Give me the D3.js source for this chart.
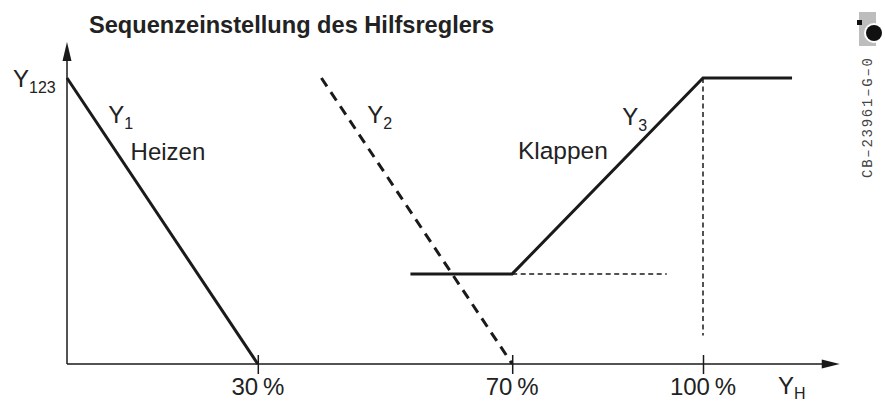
<!DOCTYPE html>
<html>
<head>
<meta charset="utf-8">
<script src="https://cdn.jsdelivr.net/npm/d3@7"></script>
<style>
  body { margin: 0; background: #fff; }
  svg { display: block; font-family: "Liberation Sans", Arial, sans-serif; }
</style>
</head>
<body>
<div id="chart"></div>
<script>
// Werte in % (x = Y_H, y = Stellsignal)
var xTicks = [30, 70, 100];
var tickLabels = ["30\u2009%", "70\u2009%", "100\u2009%"];
var y1Points = [[0, 100], [30, 0]];
var y2Points = [[40, 100], [70, 0]];
var y3Points = [[54, 31.5], [70, 31.5], [100, 100], [114, 100]];
var guideH = [[70, 31.5], [94.3, 31.5]];
var guideV = [[100, 100], [100, 10]];
var seriesNames = ["Y1", "Y2", "Y3"];
var title = "Sequenzeinstellung des Hilfsreglers";
var docCode = "CB\u201323961\u2013G\u20130";

var width = 885, height = 401;
var ink = "#1a1a1a";

var x = d3.scaleLinear().domain([0, 100]).range([67, 703]);
var y = d3.scaleLinear().domain([0, 100]).range([364, 78]);
var xEnd = 121.5, yEnd = 112.6;

var svg = d3.select("#chart").append("svg")
    .attr("width", width)
    .attr("height", height);

var line = d3.line()
    .x(function(d) { return x(d[0]); })
    .y(function(d) { return y(d[1]); });

// title
svg.append("text")
    .attr("x", 89)
    .attr("y", 33)
    .attr("font-size", 23.6)
    .attr("font-weight", "bold")
    .attr("fill", "#222")
    .text(title);

// x axis
var xAxis = d3.axisBottom(x)
    .tickValues(xTicks)
    .tickSize(10)
    .tickSizeOuter(0)
    .tickFormat("");

var gx = svg.append("g")
    .attr("transform", "translate(0," + y(0) + ")")
    .call(xAxis);
gx.select(".domain").remove();
gx.selectAll(".tick line")
    .attr("y1", -9)
    .attr("stroke", ink)
    .attr("stroke-width", 1.5);

svg.append("line")
    .attr("x1", x(0)).attr("y1", y(0))
    .attr("x2", x(xEnd) - 10).attr("y2", y(0))
    .attr("stroke", ink)
    .attr("stroke-width", 1.5);
svg.append("path")
    .attr("d", "M" + x(xEnd) + "," + y(0) + "l-18,-4.5v9z")
    .attr("fill", ink);

// y axis
svg.append("line")
    .attr("x1", x(0)).attr("y1", y(0))
    .attr("x2", x(0)).attr("y2", y(yEnd) + 10)
    .attr("stroke", ink)
    .attr("stroke-width", 1.5);
svg.append("path")
    .attr("d", "M" + x(0) + "," + y(yEnd) + "l-4.5,19h9z")
    .attr("fill", ink);

// tick labels
svg.append("g")
    .selectAll("text")
    .data(xTicks)
  .enter().append("text")
    .attr("x", function(d) { return x(d); })
    .attr("y", y(0) + 31)
    .attr("text-anchor", "middle")
    .attr("font-size", 24)
    .attr("fill", "#222")
    .text(function(d, i) { return tickLabels[i]; });

// guides
svg.append("path")
    .attr("d", line(guideH))
    .attr("fill", "none")
    .attr("stroke", ink)
    .attr("stroke-width", 1.5)
    .attr("stroke-dasharray", "5,3.5");
svg.append("path")
    .attr("d", line(guideV))
    .attr("fill", "none")
    .attr("stroke", ink)
    .attr("stroke-width", 1.5)
    .attr("stroke-dasharray", "5,3.5");

// curves
svg.append("path")
    .attr("d", line(y1Points))
    .attr("fill", "none")
    .attr("stroke", ink)
    .attr("stroke-width", 3);
svg.append("path")
    .attr("d", line(y2Points))
    .attr("fill", "none")
    .attr("stroke", ink)
    .attr("stroke-width", 3)
    .attr("stroke-dasharray", "10,7");
svg.append("path")
    .attr("d", line(y3Points))
    .attr("fill", "none")
    .attr("stroke", ink)
    .attr("stroke-width", 3)
    .attr("stroke-linejoin", "miter");

// labels with subscripts
function subLabel(px, py, main, sub, dy) {
  var t = svg.append("text")
      .attr("x", px)
      .attr("y", py)
      .attr("font-size", 24)
      .attr("fill", "#222");
  t.append("tspan").text(main);
  t.append("tspan")
      .attr("font-size", 16)
      .attr("dy", dy || 6)
      .text(sub);
}

subLabel(x(0) - 54, y(100) + 9, "Y", "123");
subLabel(x(6.5), y(84.3), seriesNames[0][0], seriesNames[0].slice(1));
subLabel(x(47.2), y(84.3), seriesNames[1][0], seriesNames[1].slice(1));
subLabel(x(87.3), y(83.6), seriesNames[2][0], seriesNames[2].slice(1));
subLabel(x(111.8), y(0) + 30, "Y", "H", 4.5);

svg.append("text")
    .attr("x", x(10))
    .attr("y", y(71.3))
    .attr("font-size", 24)
    .attr("fill", "#222")
    .text("Heizen");
svg.append("text")
    .attr("x", x(70.9))
    .attr("y", y(71.7))
    .attr("font-size", 24.5)
    .attr("fill", "#222")
    .text("Klappen");

// logo + document code
var logo = svg.append("g");
logo.append("rect")
    .attr("x", 859).attr("y", 12)
    .attr("width", 17).attr("height", 34)
    .attr("fill", "#bdbdbd");
logo.append("circle")
    .attr("cx", 874).attr("cy", 33).attr("r", 10)
    .attr("fill", "#fff");
logo.append("circle")
    .attr("cx", 874).attr("cy", 33).attr("r", 8)
    .attr("fill", "#111");
logo.append("rect")
    .attr("x", 857).attr("y", 20)
    .attr("width", 5).attr("height", 5)
    .attr("fill", "#111");

svg.append("text")
    .attr("transform", "translate(872,178) rotate(-90)")
    .attr("font-family", "'Liberation Mono', monospace")
    .attr("font-size", 14)
    .attr("fill", "#444")
    .attr("textLength", 120)
    .text(docCode);
</script>
</body>
</html>
